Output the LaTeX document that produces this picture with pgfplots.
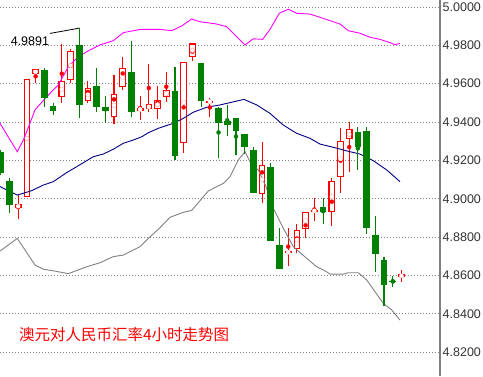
\documentclass[border=0pt]{standalone}
\usepackage{pgfplots}
\pgfplotsset{compat=1.18}
\usepackage{pgfplotstable}
\usepackage{fontspec}
\setmainfont{Liberation Sans}
\newfontfamily\cjk{Noto Sans CJK SC}
\definecolor{cgreen}{RGB}{0,128,0}
\definecolor{cred}{RGB}{255,0,0}
\definecolor{cmag}{RGB}{255,0,255}
\definecolor{cnavy}{RGB}{0,0,128}
\definecolor{cgray}{RGB}{128,128,128}

% candles: index, open, high, low, close
\pgfplotstableread{
i o h l c
0 4.9244 4.9254 4.9123 4.9134
1 4.9092 4.9110 4.8924 4.8967
5 4.9671 4.9683 4.9480 4.9524
6 4.9483 4.9498 4.9437 4.9459
9 4.9801 4.9891 4.9419 4.9489
11 4.9588 4.9680 4.9454 4.9480
12 4.9477 4.9536 4.9396 4.9459
15 4.9661 4.9822 4.9426 4.9454
20 4.9563 4.9688 4.9202 4.9224
23 4.9708 4.9708 4.9480 4.9511
25 4.9473 4.9477 4.9214 4.9396
26 4.9404 4.9489 4.9329 4.9386
27 4.9421 4.9421 4.9228 4.9355
28 4.9337 4.9337 4.9233 4.9271
29 4.9254 4.9268 4.9031 4.9031
31 4.9164 4.9188 4.8781 4.8781
32 4.8759 4.8849 4.8635 4.8635
37 4.8957 4.9004 4.8866 4.8932
41 4.9348 4.9375 4.9150 4.9271
42 4.9353 4.9375 4.8814 4.8849
43 4.8811 4.8910 4.8619 4.8712
44 4.8680 4.8698 4.8442 4.8550
45 4.8571 4.8598 4.8541 4.8566
}\greendata

\pgfplotstableread{
i o h l c
2 4.8950 4.9019 4.8893 4.8972
3 4.9007 4.9623 4.9007 4.9623
4 4.9649 4.9675 4.9602 4.9675
7 4.9529 4.9807 4.9498 4.9612
8 4.9619 4.9779 4.9605 4.9770
10 4.9508 4.9614 4.9501 4.9577
13 4.9428 4.9645 4.9391 4.9546
14 4.9581 4.9739 4.9567 4.9680
16 4.9459 4.9536 4.9410 4.9473
17 4.9466 4.9702 4.9452 4.9492
18 4.9466 4.9588 4.9416 4.9515
19 4.9529 4.9662 4.9506 4.9567
21 4.9292 4.9713 4.9240 4.9713
22 4.9737 4.9814 4.9720 4.9810
24 4.9501 4.9524 4.9428 4.9511
30 4.9023 4.9296 4.8979 4.9176
33 4.8715 4.8849 4.8651 4.8726
34 4.8736 4.8866 4.8719 4.8835
35 4.8840 4.8929 4.8793 4.8929
36 4.8934 4.9004 4.8884 4.8940
38 4.8929 4.9110 4.8859 4.9091
39 4.9115 4.9367 4.9031 4.9301
40 4.9310 4.9398 4.9141 4.9362
46 4.8590 4.8628 4.8567 4.8606
}\reddata

\pgfplotstableread{
x y
-0.092 4.9393
1.894 4.9245
2.583 4.9306
3.272 4.9384
3.927 4.9463
5.270 4.9532
6.602 4.9593
7.750 4.9688
8.714 4.9732
9.862 4.9767
11.389 4.9802
12.916 4.9824
14.064 4.9866
15.982 4.9883
18.278 4.9883
19.621 4.9876
20.769 4.9901
21.917 4.9937
22.870 4.9923
24.788 4.9911
25.936 4.9897
26.889 4.9854
28.037 4.9802
28.990 4.9834
30.069 4.9831
30.907 4.9883
31.975 4.9967
33.008 4.9988
33.972 4.9967
35.499 4.9963
36.648 4.9946
38.944 4.9911
39.897 4.9876
41.240 4.9863
42.388 4.9842
43.536 4.9831
44.684 4.9814
45.258 4.9803
45.832 4.9810
}\bandU

\pgfplotstableread{
x y
-0.092 4.9063
1.894 4.9019
2.778 4.9031
3.548 4.9042
4.880 4.9071
6.028 4.9089
7.566 4.9136
8.714 4.9167
9.667 4.9193
10.620 4.9219
11.768 4.9233
12.916 4.9258
14.064 4.9289
15.212 4.9306
16.177 4.9323
16.934 4.9344
18.083 4.9367
18.852 4.9379
19.805 4.9393
20.953 4.9419
22.101 4.9451
23.640 4.9477
25.167 4.9489
26.315 4.9501
27.922 4.9518
29.380 4.9489
30.907 4.9445
32.434 4.9384
33.972 4.9341
35.499 4.9315
36.648 4.9285
38.175 4.9268
40.092 4.9245
41.240 4.9233
42.767 4.9198
44.306 4.9150
45.832 4.9089
}\bandM

\pgfplotstableread{
x y
-0.092 4.8727
1.894 4.8793
3.927 4.8654
4.880 4.8632
6.028 4.8624
7.750 4.8609
9.862 4.8645
11.389 4.8666
12.916 4.8698
14.064 4.8706
15.982 4.8750
16.751 4.8785
18.278 4.8849
19.426 4.8903
20.953 4.8929
21.917 4.8939
23.823 4.9040
25.545 4.9080
26.315 4.9115
27.268 4.9202
28.037 4.9245
28.806 4.9176
29.564 4.9150
30.448 4.9063
31.286 4.8950
32.434 4.8846
33.582 4.8750
35.121 4.8689
36.269 4.8645
37.222 4.8624
37.796 4.8607
39.323 4.8607
39.897 4.8614
41.045 4.8614
42.009 4.8576
42.962 4.8515
43.915 4.8454
44.879 4.8420
45.832 4.8367
}\bandL

\begin{document}
\begin{tikzpicture}
\useasboundingbox (0,0) rectangle (483pt,376pt);
\begin{axis}[
  at={(0,0)}, anchor=south west,
  width=440pt, height=376pt, scale only axis,
  xmin=-0.0918, xmax=50.425,
  ymin=4.80754, ymax=5.003624,
  axis x line=none,
  axis y line*=right,
  y axis line style={draw=cgray, line width=1.2pt},
  ytick={4.82,4.84,4.86,4.88,4.90,4.92,4.94,4.96,4.98,5.00},
  major tick length=0pt,
  ymajorgrids,
  grid style={cgray, line width=0.8pt, dash pattern=on 1pt off 2pt},
  /pgf/number format/assume math mode=true,
  yticklabel style={/pgf/number format/.cd, fixed, fixed zerofill, precision=4, /tikz/.cd,
    font=\fontsize{12.5}{13}\selectfont, text=black!80, anchor=west, inner xsep=2.5pt},
  clip=true,
]
% red wicks
\addplot[only marks, mark=none, color=cred,
  error bars/.cd, y dir=both, y explicit, error mark=none,
  error bar style={line width=1.1pt, color=cred}]
  table[x=i, y expr={(\thisrow{h}+\thisrow{l})/2}, y error expr={(\thisrow{h}-\thisrow{l})/2}] {\reddata};
% red bodies (outline)
\addplot[only marks, mark=none, color=cred,
  error bars/.cd, y dir=both, y explicit, error mark=none,
  error bar style={line width=6.7pt, color=cred}]
  table[x=i, y expr={(\thisrow{o}+\thisrow{c})/2}, y error expr={max(abs(\thisrow{o}-\thisrow{c})/2,0.0004)}] {\reddata};
% red bodies (hollow interior)
\addplot[only marks, mark=none, color=white,
  error bars/.cd, y dir=both, y explicit, error mark=none,
  error bar style={line width=4.5pt, color=white}]
  table[x=i, y expr={(\thisrow{o}+\thisrow{c})/2}, y error expr={max(abs(\thisrow{o}-\thisrow{c})/2-0.00058,0)}] {\reddata};

% bands (over the hollow red bodies, under the green bodies)
\addplot[cmag, line width=0.9pt, mark=none] table[x=x,y=y] {\bandU};
\addplot[cnavy, line width=0.9pt, mark=none] table[x=x,y=y] {\bandM};
\addplot[cgray, line width=0.9pt, mark=none] table[x=x,y=y] {\bandL};

% green wicks
\addplot[only marks, mark=none, color=cgreen,
  error bars/.cd, y dir=both, y explicit, error mark=none,
  error bar style={line width=1.1pt, color=cgreen}]
  table[x=i, y expr={(\thisrow{h}+\thisrow{l})/2}, y error expr={(\thisrow{h}-\thisrow{l})/2}] {\greendata};
% green bodies
\addplot[only marks, mark=none, color=cgreen,
  error bars/.cd, y dir=both, y explicit, error mark=none,
  error bar style={line width=6.7pt, color=cgreen}]
  table[x=i, y expr={(\thisrow{o}+\thisrow{c})/2}, y error expr={max(abs(\thisrow{o}-\thisrow{c})/2,0.0003)}] {\greendata};

% leader line to the high
\addplot[black, line width=0.8pt, mark=none] coordinates {(5.65,4.9862) (8.85,4.9888) (9,4.9891)};
\node[inner sep=0pt, anchor=center, font=\fontsize{12.5}{13}\selectfont] at (rel axis cs:0.068,0.891) {4.9891};

\node[inner sep=0pt, anchor=west, text=cred, font=\cjk\fontsize{15.5}{16}\selectfont] at (rel axis cs:0.043,0.109) {澳元对人民币汇率4小时走势图};
\end{axis}
\end{tikzpicture}
\end{document}
